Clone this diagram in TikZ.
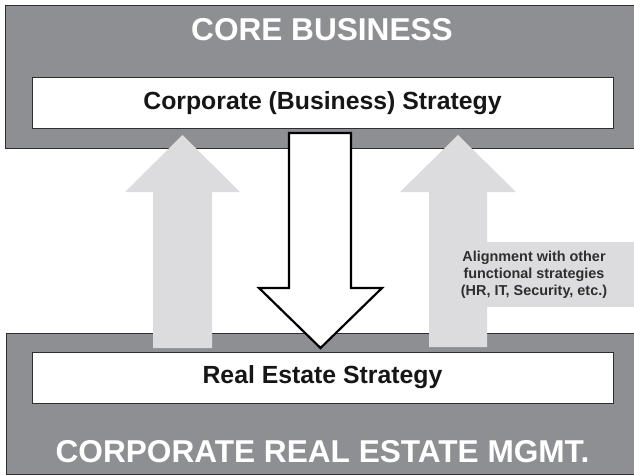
\documentclass[tikz,border=0pt]{standalone}
\usepackage{fontspec}
\setmainfont{Liberation Sans}
\definecolor{boxgray}{HTML}{8E8F93}
\definecolor{arrowgray}{HTML}{DCDCDE}
\definecolor{edgegray}{HTML}{2E2E2E}
\definecolor{inkblack}{HTML}{161616}
\tikzset{
  band/.style={fill=boxgray, draw=edgegray, line width=1pt},
  stratbox/.style={fill=white, draw=edgegray, line width=1pt, minimum width=581pt, minimum height=51pt, inner sep=0pt,
    font=\bfseries\fontsize{24.8}{29}\selectfont, text=inkblack},
  bandtitle/.style={font=\bfseries\fontsize{31.6}{37}\selectfont, text=white, inner sep=0pt},
  uparrow/.style={fill=arrowgray, draw=none},
  downarrow/.style={fill=white, draw=black, line width=2.2pt, line join=miter},
  note/.style={font=\bfseries\fontsize{14.4}{17.2}\selectfont, text=edgegray, align=center, inner sep=0pt}
}
\begin{document}
\begin{tikzpicture}[x=1pt,y=-1pt]
  \useasboundingbox (0,0) rectangle (634,476);
  \fill[white] (0,0) rectangle (634,476);
  \clip (0,0) rectangle (634,476);

  % business band and corporate real estate band
  \draw[band] (5,6) rectangle (645,148);
  \draw[band] (6,333) rectangle (645,474);
  \node[bandtitle] (core) at (322,30) {CORE BUSINESS};
  \node[bandtitle] (crem) at (322.5,452) {CORPORATE REAL ESTATE MGMT.};

  % strategy boxes
  \node[stratbox] (corp) at (322.5,103.5) {Corporate (Business) Strategy};
  \node[stratbox] (res) at (322.5,377.5) {Real Estate Strategy};

  % upward alignment arrows
  \fill[uparrow] (153,348) -- (153,192) -- (125,192) -- (182.5,135) -- (240,192) -- (212,192) -- (212,348) -- cycle;
  \fill[uparrow] (429,347) -- (429,192) -- (400,192) -- (458,135) -- (516,192) -- (487,192) -- (487,347) -- cycle;

  % label panel attached to the right up arrow
  \fill[arrowgray] (487,242) rectangle (640,307);
  \node[note] (align) at (534,275) {Alignment with other\\functional strategies\\(HR, IT, Security, etc.)};

  % downward strategy arrow
  \draw[downarrow] (289,133) -- (351,133) -- (351,288) -- (382,288) -- (320.5,348) -- (259,288) -- (289,288) -- cycle;
\end{tikzpicture}
\end{document}
